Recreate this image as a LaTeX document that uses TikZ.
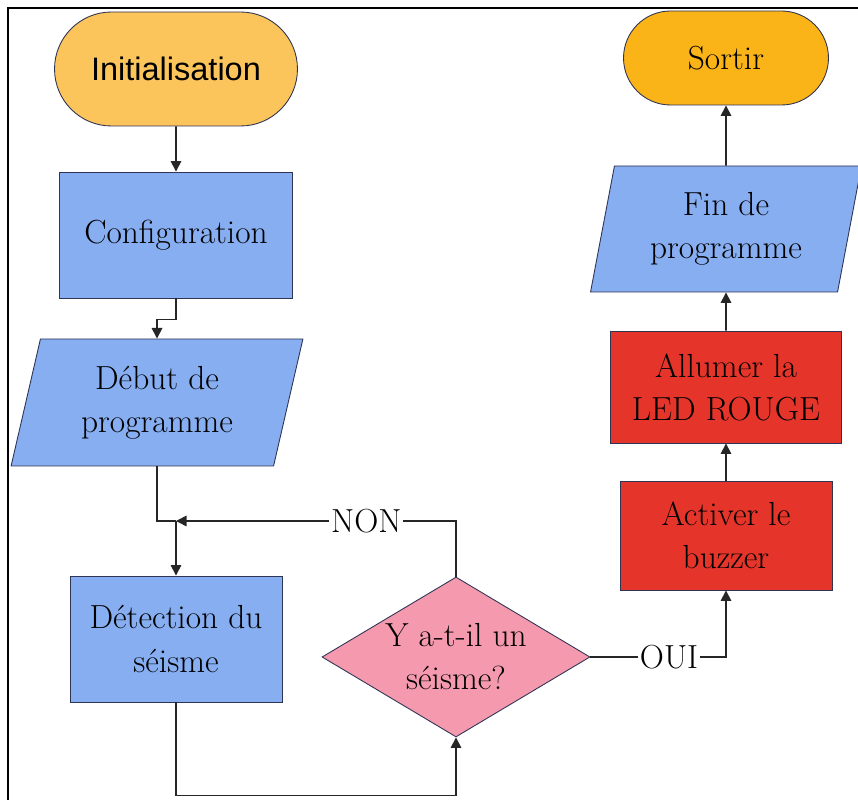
\documentclass[tikz,border=0pt]{standalone}
\usepackage{fontspec}
\newfontfamily\sansarial{Liberation Sans}
\usetikzlibrary{shapes.geometric, shapes.misc, arrows.meta, positioning}

\definecolor{termA}{HTML}{FBC55C}
\definecolor{termB}{HTML}{FBB417}
\definecolor{boxblue}{HTML}{87AEF1}
\definecolor{boxred}{HTML}{E5352B}
\definecolor{boxpink}{HTML}{F59AAE}
\definecolor{edge}{HTML}{2F3454}

\begin{document}
\begin{tikzpicture}[
        every node/.style={font=\fontsize{19}{24.5}\selectfont},
        base/.style={draw=edge, line width=0.5pt, align=center, inner sep=2pt},
        term/.style={base, rounded rectangle},
        proc/.style={base, rectangle},
        io/.style={base, trapezium, trapezium stretches=true},
        decision/.style={base, diamond},
        link/.style={line width=0.9pt, draw=black!85},
        arrow/.style={link, -{Triangle[width=6pt,length=6pt]}},
        tag/.style={fill=white, inner sep=1pt}
    ]

    % Define positions for the columns
    \def\lpos{3.52}
    \def\rpos{14.52}

    % Page size and frame
    \useasboundingbox (0,0) rectangle (17.16,-16);
    \draw[line width=1.1pt] (0.16,-16) -- (0.16,-0.16) -- (17.16,-0.16);

    % Left column
    \node[term, fill=termA, minimum width=5cm, minimum height=2.28cm,
          font=\sansarial\fontsize{18.5}{22}\selectfont] (init) at (\lpos,-1.38) {Initialisation};
    \node[proc, fill=boxblue, minimum width=4.66cm, minimum height=2.52cm] (config) at (\lpos,-4.70) {Configuration};
    \node[io, fill=boxblue, trapezium left angle=76, trapezium right angle=104,
          minimum width=5.84cm, minimum height=2.54cm] (debut) at (3.14,-8.05) {Début de\\programme};
    \coordinate (junc) at (\lpos,-10.42);
    \node[proc, fill=boxblue, minimum width=4.24cm, minimum height=2.52cm] (detect) at (\lpos,-12.78) {Détection du\\séisme};

    % Decision
    \node[decision, fill=boxpink, minimum width=5.36cm, minimum height=3.2cm, inner sep=0pt] (test) at (9.12,-13.14) {};
    \node[align=center] (testtxt) at (test) {Y a-t-il un\\séisme?};

    % Right column
    \node[proc, fill=boxred, minimum width=4.24cm, minimum height=2.18cm] (buzzer) at (\rpos,-10.71) {Activer le\\buzzer};
    \node[proc, fill=boxred, minimum width=4.62cm, minimum height=2.24cm] (led) at (\rpos,-7.74) {Allumer la\\LED ROUGE};
    \node[io, fill=boxblue, trapezium left angle=78, trapezium right angle=102,
          minimum width=5.42cm, minimum height=2.52cm] (fin) at (\rpos,-4.58) {Fin de\\programme};
    \node[term, fill=termB, minimum width=4.24cm, minimum height=1.88cm] (sortir) at (\rpos,-1.16) {Sortir};

    % Draw the connecting lines
    \draw[arrow] (init) -- (config);
    \draw[arrow] (config.south) -- ++(0,-0.42) -| (debut.north);
    \draw[link] (debut.south) |- (junc);
    \draw[arrow] (junc) -- (detect.north);
    \draw[arrow] (test.north) |- node[tag, pos=0.66] {NON} (junc);
    \draw[arrow] (detect.south) -- ++(0,-1.86) -| (test.south);
    \draw[arrow] (test.east) -| node[tag, pos=0.29] {OUI} (buzzer.south);
    \draw[arrow] (buzzer) -- (led);
    \draw[arrow] (led) -- (fin);
    \draw[arrow] (fin) -- (sortir);

\end{tikzpicture}
\end{document}
